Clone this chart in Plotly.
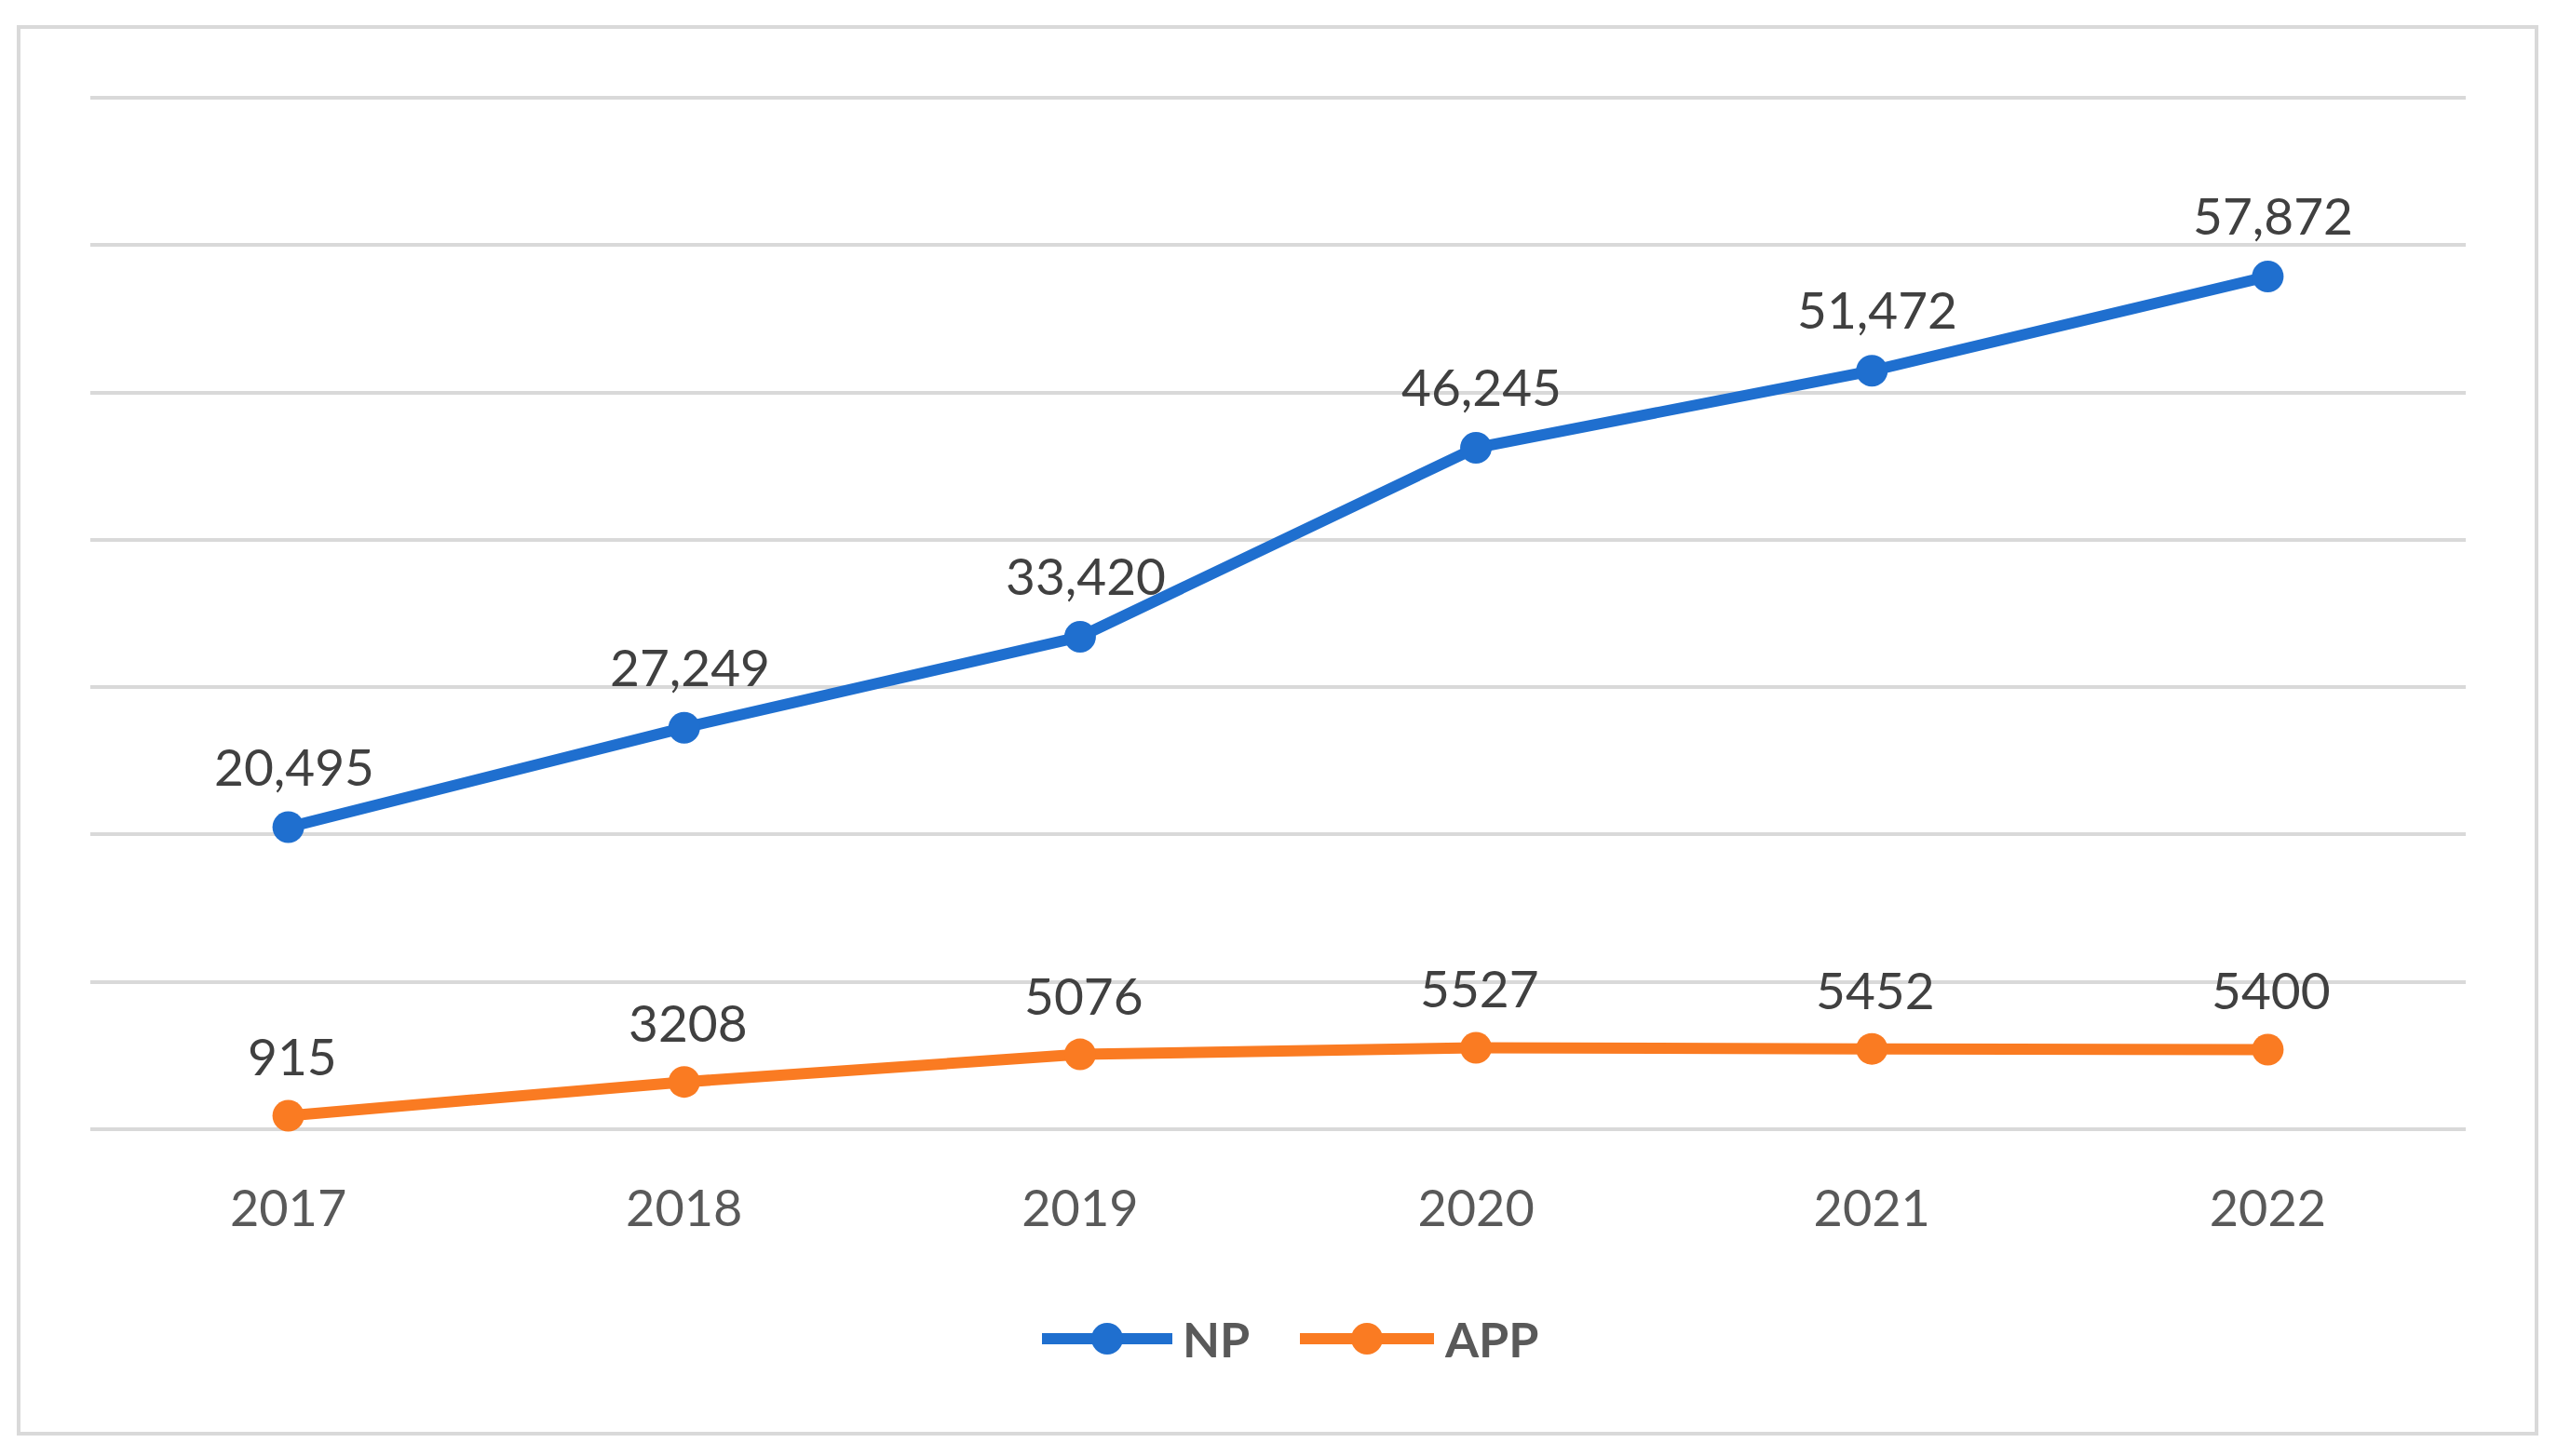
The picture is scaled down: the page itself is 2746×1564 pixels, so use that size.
import plotly.graph_objects as go

# ---- data ----
years = ["2017", "2018", "2019", "2020", "2021", "2022"]
np_values = [20495, 27249, 33420, 46245, 51472, 57872]
app_values = [915, 3208, 5076, 5527, 5452, 5400]
series_names = ["NP", "APP"]

# ---- style ----
NP_COLOR = "#1F6FCF"
APP_COLOR = "#FA7B22"
GRID = "#D9D9D9"
TEXT = "#404040"
FONT = "Lato"
W, H = 2746, 1564
PAD = 700  # y-range padding (data units) so the edge gridlines get drawn
L, R, T, B = 97, 98, 94, 340

fig = go.Figure()
for name, vals, col in [(series_names[0], np_values, NP_COLOR),
                        (series_names[1], app_values, APP_COLOR)]:
    fig.add_trace(go.Scatter(
        x=years, y=vals, name=name, mode="lines+markers",
        line=dict(color=col, width=12),
        marker=dict(color=col, size=34),
        cliponaxis=False, showlegend=False,
    ))

annotations = []
for i, v in enumerate(np_values):
    annotations.append(dict(x=i, y=v, xref="x", yref="y", text=f"{v:,}",
                            showarrow=False, yanchor="middle", yshift=66, xshift=6,
                            font=dict(family=FONT, size=55, color=TEXT)))
for i, v in enumerate(app_values):
    annotations.append(dict(x=i, y=v, xref="x", yref="y", text=str(v),
                            showarrow=False, yanchor="middle", yshift=64, xshift=4,
                            font=dict(family=FONT, size=55, color=TEXT)))

# paper-coordinate helpers (plot area in pixels)
PW, PH = W - L - R, H - T - B
def px(xp):
    return (xp - L) / PW
def py(yp):
    return (H - B - yp) / PH

# custom legend (long line symbols like the original)
LEG_Y = py(1438)
legend_items = [
    (series_names[0], NP_COLOR, 1119, 1259, 1189, 1268),
    (series_names[1], APP_COLOR, 1396, 1540, 1468, 1549),
]
shapes = [dict(type="rect", xref="paper", yref="paper",
               x0=px(20), x1=px(2724), y0=py(1540), y1=py(29),
               line=dict(color=GRID, width=4), layer="below")]
for name, col, lx0, lx1, mx, tx in legend_items:
    shapes.append(dict(type="line", xref="paper", yref="paper",
                       x0=px(lx0), x1=px(lx1), y0=LEG_Y, y1=LEG_Y,
                       line=dict(color=col, width=12)))
    shapes.append(dict(type="circle", xref="paper", yref="paper",
                       xsizemode="pixel", ysizemode="pixel",
                       xanchor=px(mx), yanchor=LEG_Y, x0=-17, x1=17, y0=-17, y1=17,
                       fillcolor=col, line=dict(color=col, width=0)))
    annotations.append(dict(x=px(tx), y=LEG_Y, xref="paper", yref="paper", text=f"<b>{name}</b>",
                            showarrow=False, xanchor="left", yanchor="middle",
                            font=dict(family=FONT, size=52, color="#595959")))

fig.update_layout(
    width=W, height=H,
    margin=dict(l=L, r=R, t=T, b=B, pad=0),
    paper_bgcolor="white", plot_bgcolor="white",
    font=dict(family=FONT, color=TEXT),
    shapes=shapes, annotations=annotations,
    showlegend=False,
    xaxis=dict(type="category", range=[-0.5, 5.5], showgrid=False, zeroline=False,
               showline=False, ticks="outside", ticklen=27, tickcolor="rgba(0,0,0,0)",
               tickfont=dict(family=FONT, size=54, color="#595959")),
    yaxis=dict(range=[-PAD, 70000 + PAD], tick0=0, dtick=10000, showgrid=True, gridcolor=GRID,
               gridwidth=4, zeroline=False, showline=False, showticklabels=False, ticks=""),
)

fig.write_html("out.html", config={"displayModeBar": False},
               post_script="document.body.style.margin='0';document.body.style.overflow='hidden';")
